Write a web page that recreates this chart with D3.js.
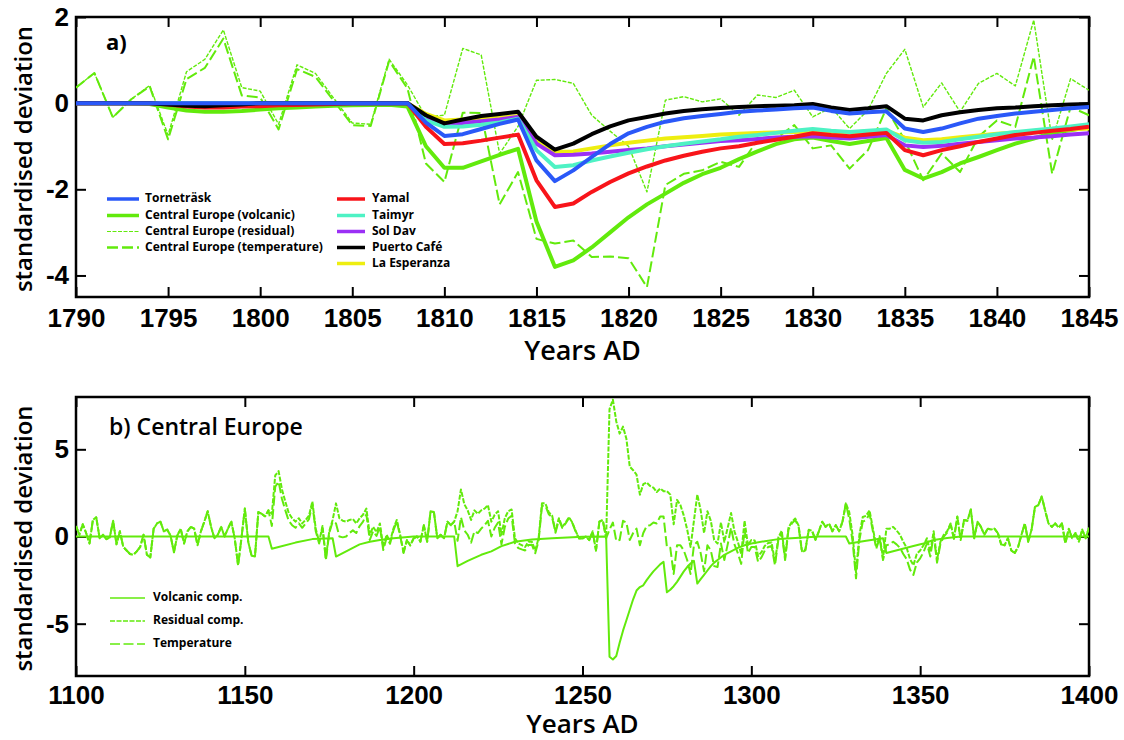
<!DOCTYPE html>
<html lang="en">
<head>
<meta charset="UTF-8">
<title>Volcanic signals in tree-ring records</title>
<script src="https://d3js.org/d3.v7.min.js"></script>
<style>
  body { margin: 0; background: #fff; }
  svg { display: block; font-family: "Open Sans", "Liberation Sans", sans-serif; }
  .tick line { stroke: #000; stroke-width: 2px; }
  .tick text { font-size: 26px; font-weight: 600; fill: #000; }
  .legend text { font-size: 12px; font-weight: 700; fill: #000; }
</style>
</head>
<body>
<div id="chart"></div>
<script>
// ---- panel a: 1790-1845, one value per year ----
const yearsA = d3.range(1790, 1846);
const ticksA = d3.range(1790, 1846, 5);

const tornetrask = [0, 0, 0, 0, 0, 0, 0, 0, 0, 0, 0, 0, 0, 0, 0, 0, 0, 0, 0,
  -0.45, -0.76, -0.72, -0.6, -0.48, -0.38, -1.33, -1.81, -1.56, -1.25, -0.95, -0.7,
  -0.55, -0.43, -0.35, -0.3, -0.25, -0.2, -0.17, -0.15, -0.12, -0.1, -0.18, -0.24,
  -0.21, -0.19, -0.59, -0.67, -0.59, -0.47, -0.36, -0.3, -0.24, -0.2, -0.16, -0.12, -0.09];
const yamal = [0, 0, 0, 0, 0, -0.03, -0.08, -0.1, -0.1, -0.08, -0.07, -0.05, -0.04, -0.03, -0.02, 0, 0, 0, 0,
  -0.55, -0.95, -0.93, -0.87, -0.8, -0.73, -1.79, -2.41, -2.33, -2.06, -1.83, -1.63,
  -1.47, -1.33, -1.22, -1.13, -1.05, -1.0, -0.92, -0.85, -0.78, -0.7, -0.74, -0.77,
  -0.73, -0.69, -1.09, -1.21, -1.09, -1.0, -0.9, -0.82, -0.74, -0.69, -0.64, -0.6, -0.55];
const taimyr = [0, 0, 0, 0, 0, 0, 0, 0, 0, 0, 0, 0, 0, 0, 0, 0, 0, 0, 0,
  -0.4, -0.55, -0.54, -0.5, -0.45, -0.36, -1.09, -1.48, -1.44, -1.33, -1.24, -1.15,
  -1.07, -1.0, -0.94, -0.89, -0.84, -0.78, -0.74, -0.69, -0.64, -0.6, -0.64, -0.67,
  -0.64, -0.61, -0.86, -0.92, -0.9, -0.84, -0.78, -0.72, -0.67, -0.63, -0.59, -0.54, -0.49];
const solDav = [0, 0, 0, 0, 0, 0, 0, 0, 0, 0, 0, 0, 0, 0, 0, 0, 0, 0, 0,
  -0.35, -0.49, -0.46, -0.42, -0.38, -0.32, -0.94, -1.21, -1.2, -1.17, -1.13, -1.09,
  -1.05, -1.0, -0.96, -0.92, -0.88, -0.86, -0.83, -0.8, -0.78, -0.77, -0.8, -0.82,
  -0.78, -0.74, -0.98, -1.02, -0.99, -0.94, -0.9, -0.86, -0.82, -0.8, -0.77, -0.73, -0.7];
const puertoCafe = [0, 0, 0, 0, 0, -0.03, -0.06, -0.07, -0.05, -0.03, 0, 0, 0, 0, 0, 0, 0, 0, 0,
  -0.28, -0.47, -0.38, -0.3, -0.25, -0.2, -0.78, -1.08, -0.94, -0.72, -0.54, -0.4,
  -0.32, -0.24, -0.18, -0.14, -0.11, -0.09, -0.07, -0.06, -0.05, -0.02, -0.1, -0.16,
  -0.12, -0.07, -0.36, -0.4, -0.28, -0.21, -0.16, -0.12, -0.1, -0.07, -0.05, -0.03, -0.02];
const laEsperanza = [0, 0, 0, 0, 0, 0, 0, 0, 0, 0, 0, 0, 0, 0, 0, 0, 0, 0, 0,
  -0.25, -0.4, -0.38, -0.36, -0.34, -0.3, -0.86, -1.13, -1.12, -1.05, -0.98, -0.92,
  -0.87, -0.82, -0.79, -0.76, -0.73, -0.71, -0.69, -0.68, -0.67, -0.66, -0.67, -0.68,
  -0.66, -0.64, -0.8, -0.86, -0.84, -0.79, -0.75, -0.71, -0.68, -0.66, -0.63, -0.61, -0.59];
const ceVolcanicA = [0, 0, 0, 0, -0.02, -0.1, -0.17, -0.2, -0.2, -0.18, -0.15, -0.12, -0.1, -0.08, -0.06, -0.05, -0.04, -0.04, -0.08,
  -1.0, -1.5, -1.5, -1.35, -1.2, -1.06, -2.75, -3.8, -3.65, -3.35, -3.0, -2.65,
  -2.35, -2.1, -1.85, -1.65, -1.5, -1.3, -1.12, -0.95, -0.84, -0.8, -0.88, -0.95,
  -0.88, -0.81, -1.55, -1.75, -1.6, -1.4, -1.25, -1.09, -0.94, -0.82, -0.69, -0.63, -0.55];
const ceResidualA = [0.36, 0.7, -0.33, 0.09, 0.41, -0.74, 0.73, 1.02, 1.7, 0.36, 0.28, -0.49, 0.89, 0.69, 0.11, -0.46, -0.49, 1.02, 0.42,
  -0.32, -0.28, 1.27, 1.12, -1.17, -0.54, 0.53, 0.55, 0.46, -0.28, -0.65, -1.0,
  -2.06, 0.07, 0.15, 0.03, 0.1, -0.28, 0.19,
  0.13, 0.3, -0.32, -0.1, -0.59, -0.16, 0.69, 1.25, -0.09, 0.47, -0.2, 0.46, 0.69, 0.4, 1.93, -0.86, 0.57, 0.3];
const ceTemperatureA = [0.36, 0.7, -0.33, 0.09, 0.39, -0.84, 0.56, 0.82, 1.5, 0.18, 0.13, -0.61, 0.79, 0.61, 0.05, -0.51, -0.53, 0.98, 0.34,
  -1.4, -1.83, -0.22, -0.23, -2.35, -1.6, -3.15, -3.26, -3.19, -3.57, -3.56, -3.6,
  -4.27, -1.9, -1.64, -1.56, -1.36, -1.48, -0.86,
  -0.82, -0.51, -1.05, -0.98, -1.52, -1.09, -0.12, -0.86, -1.79, -1.17, -1.6, -0.78, -0.4, -0.55, 1.08, -1.64, -0.09, -0.28];

// ---- panel b: Central Europe 1100-1400 ----
const yearsB = d3.range(1100, 1401);
const ticksB = [1100, 1150, 1200, 1250, 1300, 1350, 1400];

const volcanicB = [[1100, 0], [1157, 0], [1158, -0.7], [1160, -0.6], [1165, -0.35], [1170, -0.15], [1176, -0.1],
  [1177, -1.15], [1180, -0.85], [1184, -0.45], [1187, -0.3], [1190, -0.2], [1194, -0.1], [1200, 0], [1212, 0],
  [1213, -1.7], [1216, -1.4], [1220, -1.05], [1223, -0.85], [1226, -0.55], [1230, -0.3], [1235, -0.17], [1241, -0.1],
  [1250, -0.02], [1257, 0], [1258, -6.9], [1259, -7.05], [1260, -6.85], [1261, -6.1], [1262, -5.4], [1263, -4.8],
  [1264, -4.2], [1265, -3.6], [1266, -3.1], [1267, -2.9], [1268, -2.8], [1269, -2.5], [1270, -2.25], [1271, -2.0],
  [1272, -1.8], [1273, -1.6], [1274, -1.45], [1275, -3.2], [1276, -3.05], [1277, -2.85], [1278, -2.6], [1279, -2.3],
  [1280, -2.0], [1281, -1.75], [1282, -1.55], [1283, -1.4], [1284, -2.7], [1285, -2.45], [1286, -2.2], [1287, -1.95],
  [1288, -1.7], [1289, -1.5], [1290, -1.35], [1292, -1.05], [1294, -0.85], [1296, -0.65], [1298, -0.5], [1300, -0.4],
  [1304, -0.27], [1308, -0.15], [1313, -0.08], [1320, 0], [1328, 0], [1329, -0.4], [1334, -0.24], [1339, -0.1],
  [1340, -0.95], [1344, -0.75], [1348, -0.55], [1351, -0.4], [1354, -0.2], [1358, -0.08], [1362, 0], [1400, 0]];

const residualB = [
  0.6, 0.1, 0.7, 0.2, -0.4, 0.95, 1.1, -0.1, 0.1, -0.15,
  -0.05, 0.9, -0.45, 0.3, -0.6, -0.8, -1.0, -1.05, -0.85, -0.6,
  0.1, -1.05, -1.2, 0.45, 0.75, 0.85, 0.3, 0.4, 0.05, -0.9,
  0.05, 0.45, -0.4, 0.3, 0.55, 0.45, -0.5, 0.3, 0.85, 1.45,
  0.55, -0.1, 0.1, 0.55, 0.0, 0.45, 0.85, -0.1, -1.65, -0.1,
  1.6, -0.3, -1.1, -1.15, 1.4, 1.3, 1.15, 1.5, 1.3, 3.5,
  3.75, 2.7, 2.0, 1.35, 1.05, 0.85, 1.05, 0.75, 0.95, 1.2,
  2.0, 0.45, -0.3, 0.6, -1.25, 0.3, 0.95, 1.9, 1.05, 0.9,
  0.85, 0.95, 1.0, 0.75, 1.05, 1.25, 1.6, 0.1, 0.55, 0.25,
  0.75, -0.6, 0.1, -0.3, 0.45, 0.95, 0.1, -0.9, -0.2, -0.5,
  -0.1, 0.0, -0.3, 0.65, -0.3, 1.45, 1.4, -0.1, 0.1, -0.1,
  0.85, 0.65, 0.85, 1.45, 2.7, 1.85, 1.5, 0.95, 1.5, 1.3,
  1.5, 1.6, 1.8, 0.85, 1.25, 1.45, 0.1, 1.05, 1.45, 1.55,
  -0.1, -0.4, -0.5, -0.6, -0.3, -0.3, -0.8, -0.1, 1.9, 1.9,
  1.4, 1.2, 0.3, 1.05, 0.55, 0.8, 1.1, 0.8, 0.3, -0.1,
  -0.1, 0.0, -0.2, 0.3, -0.8, 0.85, 0.95, -0.1, 7.3, 7.85,
  6.6, 5.9, 6.3, 5.6, 4.0, 3.8, 3.55, 2.4, 3.0, 3.1,
  2.9, 2.8, 2.55, 2.75, 2.6, 2.6, 2.4, 0.7, 2.1, 1.8,
  1.2, 0.4, -0.6, 0.9, 2.4, 1.5, 0.2, 1.45, 0.9, -0.2,
  -0.4, 0.8, -0.3, 0.5, 1.35, 0.3, -0.3, -1.0, 0.9, -0.5,
  -0.2, -0.23, -1.12, -0.9, -0.53, -0.37, -0.35, -1.47, -0.05, 0.33,
  -1.23, 0.5, 0.84, 1.03, 0.62, -0.84, -0.75, 0.39, 0.33, -0.18,
  0.3, 0.85, 0.55, 0.75, 0.3, 0.65, 0.3, 0.85, 1.9, 1.4,
  0.07, -2.06, 0.1, 1.12, 1.19, 1.5, 0.47, -0.56, 0.02, -1.25,
  0.45, 0.45, 0.55, 0.35, 0.1, -0.3, -0.65, -1.3, -1.65, -1.0,
  -0.8, -0.5, -0.1, -0.9, 0.3, -1.35, -0.3, 0.1, 0.3, 0.75,
  -0.1, 1.15, -0.2, 0.95, 0.9, 1.55, -0.1, 0.85, 0.55, 0.1,
  0.45, 0.4, 0.45, 0.2, -0.45, -0.5, -0.1, -0.8, -0.95, -0.6,
  0.1, 0.75, -0.3, 0.4, 1.7, 1.8, 2.3, 1.5, 0.75, 0.55,
  0.75, 0.5, 0.75, -0.4, 0.45, -0.1, 0.2, -0.3, 0.4, -0.1,
  0.5];

const temperatureB = [
  0.6, 0.1, 0.7, 0.2, -0.4, 0.95, 1.1, -0.1, 0.1, -0.15,
  -0.05, 0.9, -0.45, 0.3, -0.6, -0.8, -1.0, -1.05, -0.85, -0.6,
  0.1, -1.05, -1.2, 0.45, 0.75, 0.85, 0.3, 0.4, 0.05, -0.9,
  0.05, 0.45, -0.4, 0.3, 0.55, 0.45, -0.5, 0.3, 0.85, 1.45,
  0.55, -0.1, 0.1, 0.55, 0.0, 0.45, 0.85, -0.1, -1.65, -0.1,
  1.6, -0.3, -1.1, -1.15, 1.4, 1.3, 1.15, 1.5, 0.6, 2.85,
  3.15, 2.15, 1.5, 0.9, 0.65, 0.5, 0.75, 0.5, 0.75, 1.0,
  1.85, 0.3, -0.4, 0.5, -1.35, 0.2, 0.85, 0.75, 0.0, -0.05,
  0.0, 0.2, 0.35, 0.2, 0.6, 0.85, 1.27, -0.2, 0.3, 0.03,
  0.55, -0.78, -0.05, -0.42, 0.35, 0.87, 0.04, -0.95, -0.23, -0.52,
  -0.1, 0.0, -0.3, 0.65, -0.3, 1.45, 1.4, -0.1, 0.1, -0.1,
  0.85, 0.65, 0.85, -0.25, 1.1, 0.35, 0.1, -0.35, 0.3, 0.2,
  0.45, 0.65, 0.9, 0.0, 0.5, 0.8, -0.45, 0.55, 1.03, 1.19,
  -0.4, -0.67, -0.74, -0.8, -0.49, -0.47, -0.96, -0.25, 1.76, 1.77,
  1.28, 1.1, 0.21, 0.97, 0.49, 0.75, 1.06, 0.77, 0.27, -0.12,
  -0.12, -0.01, -0.21, 0.29, -0.81, 0.85, 0.95, -0.1, 0.4, 0.8,
  -0.25, -0.2, 0.9, 0.8, -0.2, 0.2, 0.45, -0.5, 0.2, 0.6,
  0.65, 0.8, 0.75, 1.15, 1.15, -0.6, -0.65, -2.15, -0.5, -0.5,
  -0.8, -1.35, -2.15, -0.5, -0.3, -0.95, -2.0, -0.5, -0.8, -1.7,
  -1.75, -0.4, -1.35, -0.45, 0.5, -0.45, -0.95, -1.57, 0.4, -0.95,
  -0.6, -0.6, -1.45, -1.2, -0.8, -0.6, -0.55, -1.65, -0.2, 0.2,
  -1.35, 0.4, 0.75, 0.95, 0.55, -0.9, -0.8, 0.35, 0.3, -0.2,
  0.3, 0.85, 0.55, 0.75, 0.3, 0.65, 0.3, 0.85, 1.9, 1.0,
  -0.3, -2.4, -0.2, 0.85, 0.95, 1.3, 0.3, -0.7, -0.1, -1.35,
  -0.5, -0.45, -0.3, -0.45, -0.65, -1.0, -1.3, -1.9, -2.2, -1.5,
  -1.25, -0.9, -0.4, -1.15, 0.1, -1.5, -0.42, 0.0, 0.22, 0.7,
  -0.14, 1.13, -0.2, 0.95, 0.9, 1.55, -0.1, 0.85, 0.55, 0.1,
  0.45, 0.4, 0.45, 0.2, -0.45, -0.5, -0.1, -0.8, -0.95, -0.6,
  0.1, 0.75, -0.3, 0.4, 1.7, 1.8, 2.3, 1.5, 0.75, 0.55,
  0.75, 0.5, 0.75, -0.4, 0.45, -0.1, 0.2, -0.3, 0.4, -0.1,
  0.5];

const GREEN = "#62ea0c";

const svg = d3.select("#chart").append("svg")
  .attr("width", 1124)
  .attr("height", 740);

svg.append("rect").attr("width", 1124).attr("height", 740).attr("fill", "#fff");

// scales
const xA = d3.scaleLinear().domain([1790, 1845]).range([76, 1089]);
const yA = d3.scaleLinear().domain([-4.5, 2]).range([297, 17]);
const xB = d3.scaleLinear().domain([1100, 1400]).range([76, 1089]);
const yB = d3.scaleLinear().domain([-8, 8]).range([676, 397]);

function fmtY(d) { return d < 0 ? "-" + Math.abs(d) : String(d); }

function drawAxes(name, x, y, xTicks, yTicks, labelPad, titleGap, titleSize) {
  const [xl, xr] = x.range();
  const [yb, yt] = y.range();

  svg.append("g").attr("transform", `translate(0,${yb})`)
    .call(d3.axisBottom(x).tickValues(xTicks).tickSize(-10).tickPadding(labelPad).tickFormat(d3.format("d")));
  svg.append("g").attr("transform", `translate(0,${yt})`)
    .call(d3.axisTop(x).tickValues(xTicks).tickSize(-10).tickFormat(""));
  svg.append("g").attr("transform", `translate(${xl},0)`)
    .call(d3.axisLeft(y).tickValues(yTicks).tickSize(-10).tickPadding(7).tickFormat(fmtY));
  svg.append("g").attr("transform", `translate(${xr},0)`)
    .call(d3.axisRight(y).tickValues(yTicks).tickSize(-10).tickFormat(""));
  svg.selectAll(".domain").remove();

  svg.append("rect")
    .attr("x", xl).attr("y", yt)
    .attr("width", xr - xl).attr("height", yb - yt)
    .attr("fill", "none").attr("stroke", "#000").attr("stroke-width", 2.5);

  svg.append("clipPath").attr("id", "clip-" + name)
    .append("rect").attr("x", xl).attr("y", yt).attr("width", xr - xl).attr("height", yb - yt);

  // axis titles
  svg.append("text")
    .attr("transform", `translate(26,${(yt + yb) / 2 + 2}) rotate(-90)`)
    .attr("text-anchor", "middle")
    .attr("dominant-baseline", "middle")
    .style("font-size", "24px").style("font-weight", 600)
    .text("standardised deviation");
  svg.append("text")
    .attr("x", (xl + xr) / 2).attr("y", yb + titleGap)
    .attr("text-anchor", "middle")
    .style("font-size", titleSize + "px").style("font-weight", 600)
    .text("Years AD");
}

drawAxes("a", xA, yA, ticksA, [-4, -2, 0, 2], 12, 63, 27);
drawAxes("b", xB, yB, ticksB, [-5, 0, 5], 10, 57, 26);

// ---- panel a lines ----
const seriesA = [
  { name: "Central Europe (residual)", values: ceResidualA, color: GREEN, width: 1.4, dash: "4,1.5" },
  { name: "Central Europe (temperature)", values: ceTemperatureA, color: GREEN, width: 2, dash: "11,4" },
  { name: "Central Europe (volcanic)", values: ceVolcanicA, color: GREEN, width: 4, dash: null },
  { name: "La Esperanza", values: laEsperanza, color: "#eeee10", width: 4, dash: null },
  { name: "Sol Dav", values: solDav, color: "#9b30f5", width: 4, dash: null },
  { name: "Taimyr", values: taimyr, color: "#4ef2c4", width: 4, dash: null },
  { name: "Yamal", values: yamal, color: "#f8141a", width: 4, dash: null },
  { name: "Puerto Café", values: puertoCafe, color: "#000", width: 4, dash: null },
  { name: "Torneträsk", values: tornetrask, color: "#2a58f8", width: 4, dash: null }
];

const lineA = d3.line().x((d, i) => xA(yearsA[i])).y(d => yA(d));
const gA = svg.append("g").attr("clip-path", "url(#clip-a)");
seriesA.forEach(s => {
  gA.append("path")
    .attr("d", lineA(s.values))
    .attr("fill", "none")
    .attr("stroke", s.color)
    .attr("stroke-width", s.width)
    .attr("stroke-dasharray", s.dash)
    .attr("stroke-linejoin", "round");
});

svg.append("text").attr("x", 106).attr("y", 50)
  .style("font-size", "22px").style("font-weight", 700)
  .text("a)");

// legend a
const styleOf = name => seriesA.find(s => s.name === name);
const legA = [
  { name: "Torneträsk", x: 107, y: 199 },
  { name: "Central Europe (volcanic)", x: 107, y: 215.5 },
  { name: "Central Europe (residual)", x: 107, y: 231.5 },
  { name: "Central Europe (temperature)", x: 107, y: 247.5 },
  { name: "Yamal", x: 337, y: 199 },
  { name: "Taimyr", x: 337, y: 215.5 },
  { name: "Sol Dav", x: 337, y: 231.5 },
  { name: "Puerto Café", x: 337, y: 247.5 },
  { name: "La Esperanza", x: 337, y: 263.5 }
];
const legGA = svg.append("g").attr("class", "legend");
legA.forEach(l => {
  const s = styleOf(l.name);
  legGA.append("line")
    .attr("x1", l.x).attr("x2", l.x + (l.x < 200 ? 32 : 28))
    .attr("y1", l.y).attr("y2", l.y)
    .attr("stroke", s.color)
    .attr("stroke-width", s.width === 2 ? 2.5 : (s.width < 2 ? 1.2 : 3.5))
    .attr("stroke-dasharray", s.dash);
  legGA.append("text")
    .attr("x", l.x + (l.x < 200 ? 38 : 35)).attr("y", l.y)
    .attr("dominant-baseline", "middle")
    .text(l.name);
});

// ---- panel b lines ----
const lineB = d3.line().x((d, i) => xB(yearsB[i])).y(d => yB(d));
const lineBpts = d3.line().x(d => xB(d[0])).y(d => yB(d[1]));
const gB = svg.append("g").attr("clip-path", "url(#clip-b)");

const seriesB = [
  { name: "Volcanic comp.", d: lineBpts(volcanicB), dash: null },
  { name: "Residual comp.", d: lineB(residualB), dash: "5,1.5" },
  { name: "Temperature", d: lineB(temperatureB), dash: "10,3.5" }
];
seriesB.forEach(s => {
  gB.append("path")
    .attr("d", s.d)
    .attr("fill", "none")
    .attr("stroke", GREEN)
    .attr("stroke-width", 2)
    .attr("stroke-dasharray", s.dash)
    .attr("stroke-linejoin", "round");
});

svg.append("text").attr("x", 109).attr("y", 435)
  .style("font-size", "23px").style("font-weight", 600)
  .text("b) Central Europe");

const legGB = svg.append("g").attr("class", "legend");
seriesB.forEach((s, i) => {
  const y = 598 + i * 23;
  legGB.append("line")
    .attr("x1", 110).attr("x2", 145)
    .attr("y1", y).attr("y2", y)
    .attr("stroke", GREEN).attr("stroke-width", 1.5)
    .attr("stroke-dasharray", s.dash);
  legGB.append("text")
    .attr("x", 153).attr("y", y)
    .attr("dominant-baseline", "middle")
    .text(s.name);
});
</script>
</body>
</html>
